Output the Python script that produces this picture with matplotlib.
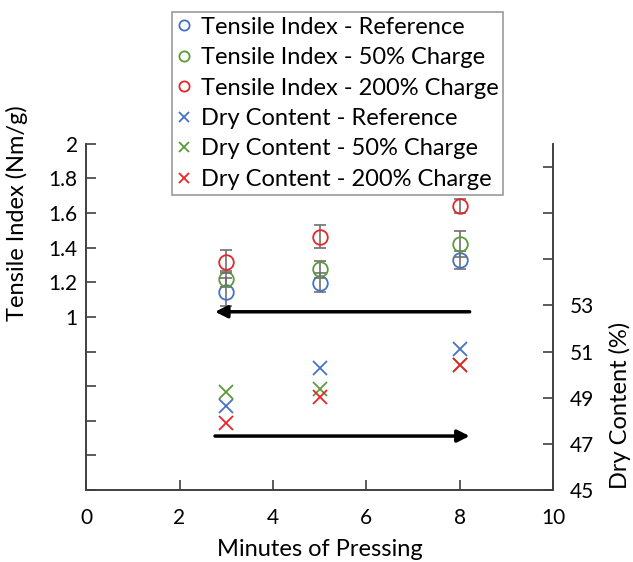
import numpy as np
import matplotlib.pyplot as plt

plt.rcParams['font.family'] = ['Lato', 'DejaVu Sans']

minutes = [3, 5, 8]

# tensile index (Nm/g), left axis
ti_ref = [1.146, 1.198, 1.329]
ti_50 = [1.218, 1.276, 1.422]
ti_200 = [1.320, 1.464, 1.640]
ti_ref_err = [0.080, 0.055, 0.053]
ti_50_err = [0.045, 0.050, 0.075]
ti_200_err = [0.065, 0.068, 0.040]

# dry content (%), right axis
dc_ref = [48.64, 50.27, 51.10]
dc_50 = [49.26, 49.38, 50.42]
dc_200 = [47.92, 49.05, 50.42]

labels = ['Reference', '50% Charge', '200% Charge']
colors = ['#4472C4', '#5B9B3A', '#E8262A']

fig = plt.figure(figsize=(6.33, 5.62), dpi=100)
ax = fig.add_axes([0.136, 0.128, 0.738, 0.616])
ax2 = ax.twinx()

handles = []
for vals, errs, lab, c in zip([ti_ref, ti_50, ti_200], [ti_ref_err, ti_50_err, ti_200_err], labels, colors):
    ax.errorbar(minutes, vals, yerr=errs, fmt='none', ecolor='#707070', elinewidth=1.2, capsize=4, capthick=1.2)
    h, = ax.plot(minutes, vals, 'o', mfc='none', mec=c, ms=10.5, mew=1.3, label='Tensile Index - ' + lab)
    handles.append(h)

for vals, lab, c in zip([dc_ref, dc_50, dc_200], labels, colors):
    h, = ax2.plot(minutes, vals, 'x', color=c, ms=10.5, mew=1.3, label='Dry Content - ' + lab)
    handles.append(h)

# arrows pointing to the matching axis
ax.annotate('', xy=(2.7, 1.03), xytext=(8.27, 1.03),
            arrowprops=dict(arrowstyle='-|>', color='black', lw=2.5, mutation_scale=18))
ax2.annotate('', xy=(8.27, 47.34), xytext=(2.7, 47.34),
             arrowprops=dict(arrowstyle='-|>', color='black', lw=2.5, mutation_scale=18))

ax.set_xlim(0, 10)
ax.set_ylim(0, 2)
ax2.set_ylim(45, 60)
ax.set_xticks(np.arange(0, 11, 2))
ax.set_yticks(np.arange(0, 2.01, 0.2))
ax.set_yticklabels(['' if v < 0.99 else f'{v:g}' for v in np.arange(0, 2.01, 0.2).round(1)])
ax2.set_yticks(np.arange(45, 60, 2))
ax2.set_yticklabels([str(v) if v <= 53 else '' for v in range(45, 60, 2)])

for a in (ax, ax2):
    a.spines['top'].set_visible(False)
    for s in a.spines.values():
        s.set_color('#404040')
        s.set_linewidth(1.2)
    a.tick_params(direction='in', length=7, width=1.2, color='#404040', labelsize=15)
ax.tick_params(axis='x', pad=13)
ax.tick_params(axis='y', pad=6)
ax2.tick_params(axis='y', pad=12)

ax.set_xlabel('Minutes of Pressing', fontsize=17, labelpad=8)
ax.set_ylabel('Tensile Index (Nm/g)', fontsize=17)
ax2.set_ylabel('Dry Content (%)', fontsize=17)
ax.yaxis.set_label_coords(-0.125, 0.80)
ax2.yaxis.set_label_coords(1.12, 0.245)

leg = fig.legend(handles=handles, loc='upper right', bbox_to_anchor=(503 / 633, 1 - 12 / 562),
                 borderaxespad=0, fontsize=17, frameon=True, fancybox=False, edgecolor='#808080',
                 handlelength=0.6, handletextpad=0.4, labelspacing=0.4,
                 borderpad=0.2, markerscale=0.7)
leg.get_frame().set_linewidth(1.2)

fig.savefig('out.png', dpi=100)
